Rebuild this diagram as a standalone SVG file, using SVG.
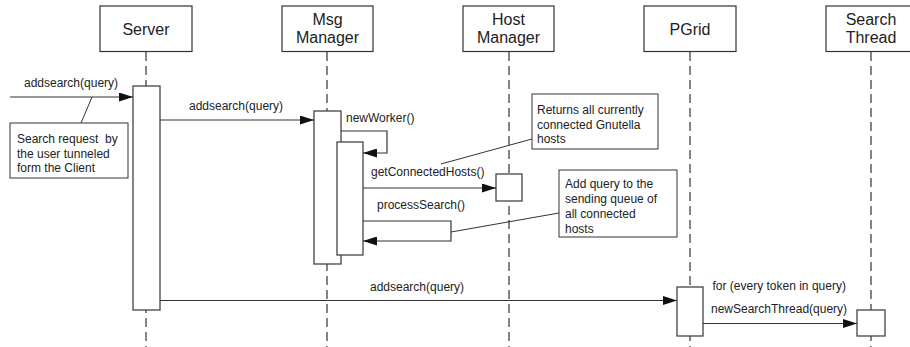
<svg xmlns="http://www.w3.org/2000/svg" width="910" height="347" viewBox="0 0 910 347">
<style>
text{font-family:"Liberation Sans",Arial,sans-serif;fill:#222}
.t{font-size:12px}
.h{font-size:16px;text-anchor:middle}
.box{fill:#fff;stroke:#333;stroke-width:1.2}
.act{fill:#fff;stroke:#444;stroke-width:1.3}
.life{stroke:#333;stroke-width:1.2;stroke-dasharray:9 5;fill:none}
.msg{stroke:#333;stroke-width:1.2;fill:none}
.note{fill:#fff;stroke:#333;stroke-width:1}
.nl{stroke:#333;stroke-width:1;fill:none}
</style>
<defs>
<marker id="ah" markerUnits="userSpaceOnUse" markerWidth="14" markerHeight="9" refX="14" refY="4.5" orient="auto">
<path d="M0,0 L14,4.5 L0,9 z" fill="#111"/>
</marker>
</defs>
<g id="lifelines">
<line class="life" x1="146" y1="52" x2="146" y2="347"/>
<line class="life" x1="327" y1="52" x2="327" y2="347"/>
<line class="life" x1="509" y1="52" x2="509" y2="347"/>
<line class="life" x1="690" y1="52" x2="690" y2="347"/>
<line class="life" x1="871" y1="52" x2="871" y2="347"/>
</g>
<g id="server">
<rect class="box" x="100" y="6" width="92" height="45.5"/>
<text class="h" x="146" y="34.5">Server</text>
<rect class="act" x="133" y="86" width="27" height="224"/>
</g>
<g id="msgmanager">
<rect class="box" x="282" y="6" width="91" height="45.5"/>
<text class="h" x="327.5" y="24.5">Msg</text>
<text class="h" x="327.5" y="43">Manager</text>
<rect class="act" x="314" y="111" width="27" height="153"/>
<rect class="act" x="337" y="142" width="26" height="113"/>
</g>
<g id="hostmanager">
<rect class="box" x="463" y="6" width="91" height="45.5"/>
<text class="h" x="508.5" y="24.5">Host</text>
<text class="h" x="508.5" y="43">Manager</text>
<rect class="act" x="496" y="174" width="26" height="27"/>
</g>
<g id="pgrid">
<rect class="box" x="644" y="6" width="92" height="45.5"/>
<text class="h" x="690" y="34.5">PGrid</text>
<rect class="act" x="677" y="287" width="26" height="49"/>
</g>
<g id="searchthread">
<rect class="box" x="826" y="6" width="90" height="45.5"/>
<text class="h" x="871" y="24.5">Search</text>
<text class="h" x="871" y="43">Thread</text>
<rect class="act" x="857" y="310" width="28" height="26"/>
</g>
<g id="connectors">
<line class="msg" x1="10" y1="97" x2="133" y2="97" marker-end="url(#ah)"/>
<text class="t" x="24" y="87">addsearch(query)</text>
<line class="msg" x1="160" y1="120" x2="314" y2="120" marker-end="url(#ah)"/>
<text class="t" x="189" y="110">addsearch(query)</text>
<polyline class="msg" points="341,131 387,131 387,153 363,153" marker-end="url(#ah)"/>
<text class="t" x="346" y="121.5">newWorker()</text>
<line class="msg" x1="363" y1="188" x2="496" y2="188" marker-end="url(#ah)"/>
<text class="t" x="371" y="176">getConnectedHosts()</text>
<polyline class="msg" points="363,221 451,221 451,241 363,241" marker-end="url(#ah)"/>
<text class="t" x="377" y="208.5">processSearch()</text>
<line class="msg" x1="160" y1="300.5" x2="677" y2="300.5" marker-end="url(#ah)"/>
<text class="t" x="370" y="291">addsearch(query)</text>
<line class="msg" x1="703" y1="323.5" x2="857" y2="323.5" marker-end="url(#ah)"/>
<text class="t" x="712.5" y="289.5">for (every token in query)</text>
<text class="t" x="711" y="313">newSearchThread(query)</text>
</g>
<g id="note-client">
<line class="nl" x1="81" y1="123" x2="92" y2="97"/>
<rect class="note" x="10" y="123" width="118" height="55"/>
<text class="t" x="17" y="143" xml:space="preserve">Search request  by</text>
<text class="t" x="17" y="157.5">the user tunneled</text>
<text class="t" x="17" y="172">form the Client</text>
</g>
<g id="note-hosts">
<line class="nl" x1="441" y1="164" x2="532" y2="139"/>
<rect class="note" x="532" y="94" width="126" height="55"/>
<text class="t" x="537" y="114">Returns all currently</text>
<text class="t" x="537" y="128.5">connected Gnutella</text>
<text class="t" x="537" y="143">hosts</text>
</g>
<g id="note-queue">
<line class="nl" x1="451" y1="232" x2="559" y2="213"/>
<rect class="note" x="559" y="170" width="118" height="67"/>
<text class="t" x="565" y="187.5">Add query to the</text>
<text class="t" x="565" y="202.5">sending queue of</text>
<text class="t" x="565" y="217.5">all connected</text>
<text class="t" x="565" y="232.5">hosts</text>
</g>
</svg>
